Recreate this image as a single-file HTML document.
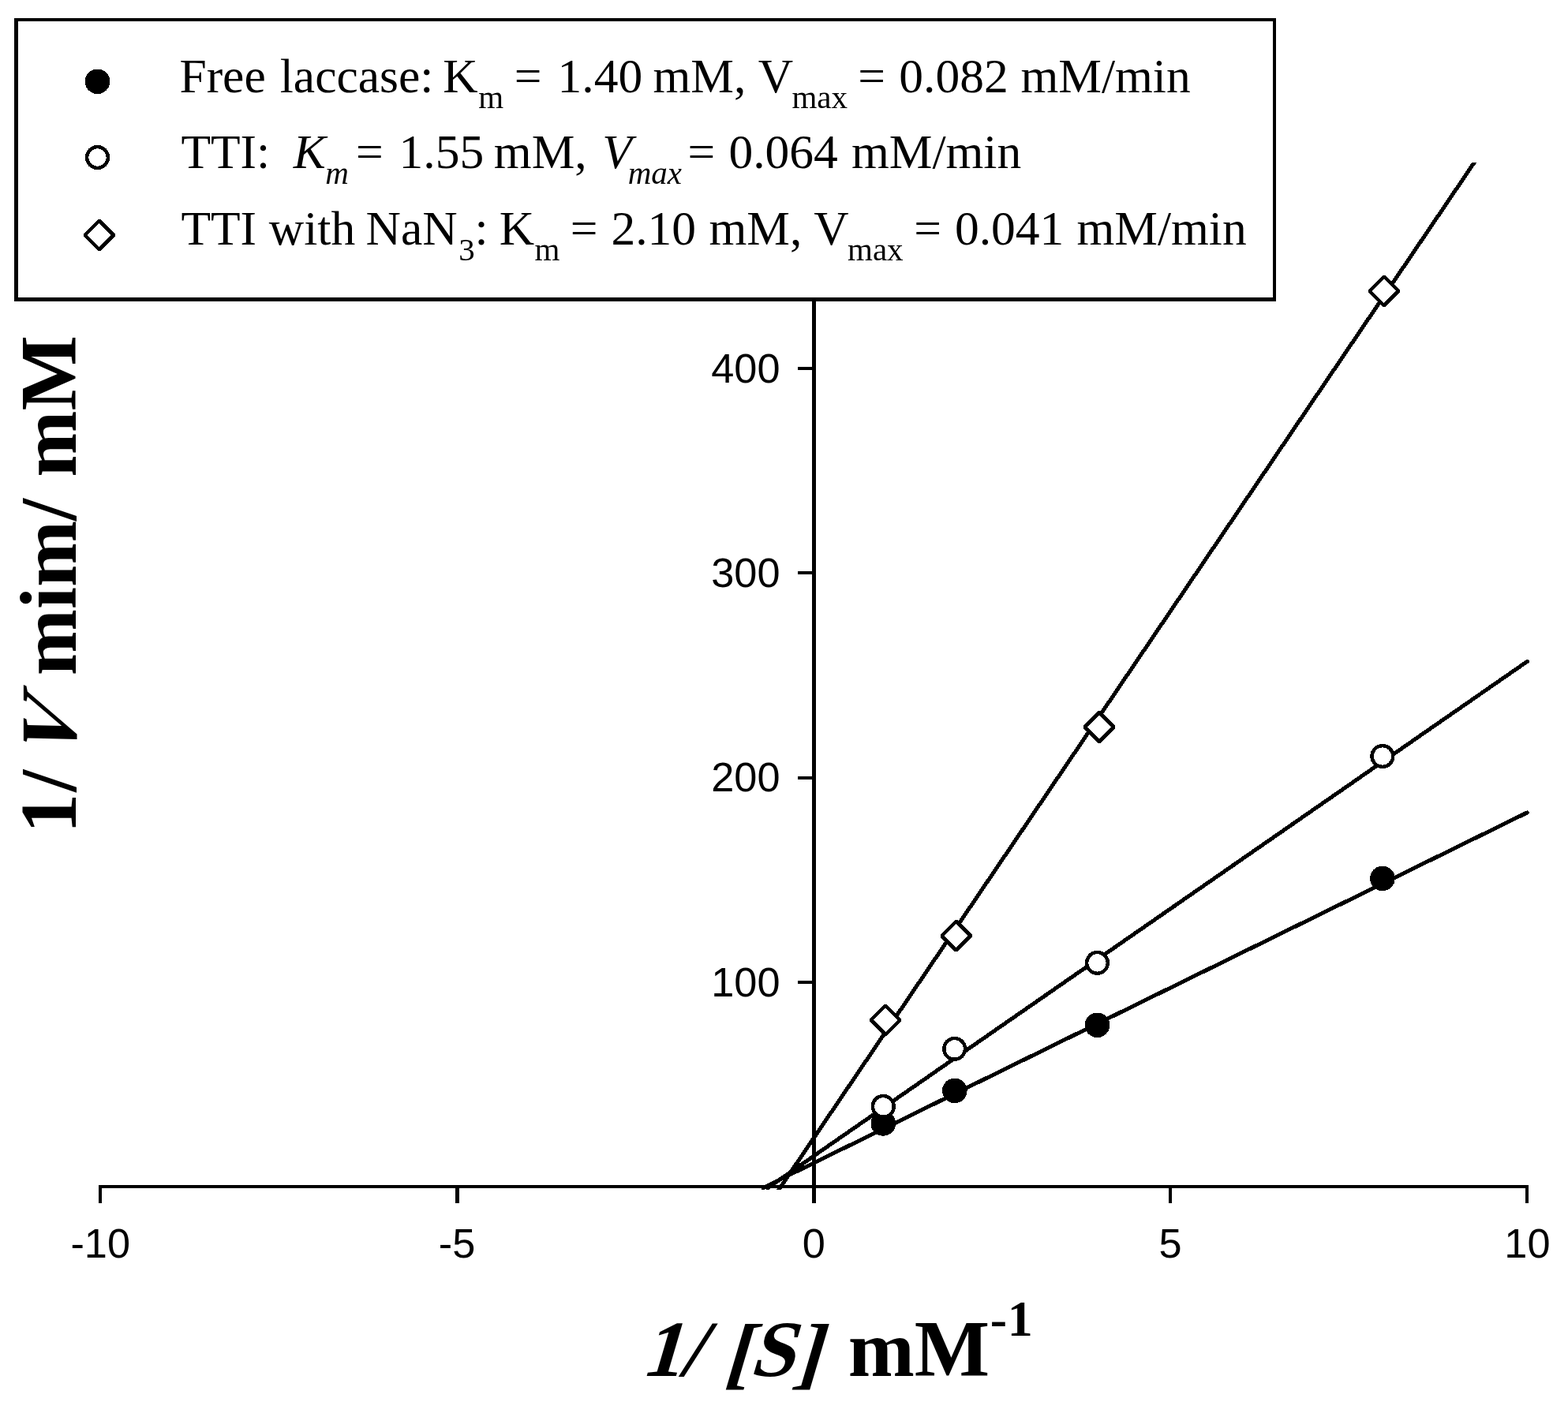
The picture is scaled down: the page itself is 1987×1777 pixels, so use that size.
<!DOCTYPE html>
<html lang="en">
<head>
<meta charset="utf-8">
<title>Lineweaver-Burk plot</title>
<style>
html,body{margin:0;padding:0;background:#fff;}
body{width:1987px;height:1777px;overflow:hidden;}
svg{display:block;}
.serif{font-family:"Liberation Serif","Times New Roman",Times,serif;}
.sans{font-family:"Liberation Sans",Arial,Helvetica,sans-serif;}
text{white-space:pre;}
</style>
</head>
<body>
<svg width="1987" height="1777" viewBox="0 0 1987 1777" shape-rendering="crispEdges">
<rect x="0" y="0" width="1987" height="1777" fill="#fff"/>

<g fill="#000">
<rect x="125" y="1502" width="1812" height="4"/>
<rect x="1029" y="380" width="5" height="1145"/>
<rect x="124.8" y="1502" width="4.4" height="23"/>
<rect x="577.1" y="1502" width="4.4" height="23"/>
<rect x="1480.8" y="1502" width="4.4" height="23"/>
<rect x="1932.8" y="1502" width="4.4" height="23"/>
<rect x="1011" y="465" width="20" height="4"/>
<rect x="1011" y="724.3" width="20" height="4"/>
<rect x="1011" y="983.7" width="20" height="4"/>
<rect x="1011" y="1243.2" width="20" height="4"/>
</g>
<g class="sans" font-size="52.3" fill="#000">
<text x="127.2" y="1594.4" text-anchor="middle">-10</text>
<text x="579" y="1594.4" text-anchor="middle">-5</text>
<text x="1031.2" y="1594.4" text-anchor="middle">0</text>
<text x="1483" y="1594.4" text-anchor="middle">5</text>
<text x="1935.4" y="1594.4" text-anchor="middle">10</text>
<text x="988.5" y="484.7" text-anchor="end">400</text>
<text x="988.5" y="744" text-anchor="end">300</text>
<text x="988.5" y="1003.4" text-anchor="end">200</text>
<text x="988.5" y="1262.9" text-anchor="end">100</text>
</g>
<g stroke="#000" stroke-width="5" fill="none">
<clipPath id="cl"><rect x="900" y="206" width="1087" height="1302"/></clipPath>
<g clip-path="url(#cl)"><line x1="985.47" y1="1510" x2="1870.91" y2="202" stroke-linecap="butt"/></g>
<line x1="972.94" y1="1505.6" x2="1935.3" y2="838.4" stroke-linecap="round"/>
<line x1="966.97" y1="1505.6" x2="1935.3" y2="1029.9" stroke-linecap="round"/>
</g>
<g fill="#000">
<circle cx="1119.3" cy="1423.9" r="15.8"/>
<circle cx="1209.8" cy="1382.4" r="15.8"/>
<circle cx="1390.5" cy="1299.3" r="15.8"/>
<circle cx="1751.9" cy="1113.4" r="15.8"/>
</g>
<g fill="#fff" stroke="#000" stroke-width="4.5">
<circle cx="1119.3" cy="1402.4" r="13.35"/>
<circle cx="1209.6" cy="1329.4" r="13.35"/>
<circle cx="1390.5" cy="1220.4" r="13.35"/>
<circle cx="1751.9" cy="958.5" r="13.35"/>
</g>
<g fill="#fff" stroke="#000" stroke-width="4.7" stroke-linejoin="bevel">
<path d="M1122.1 1274.5L1140.5 1292.9L1122.1 1311.3L1103.7 1292.9Z"/>
<path d="M1211.7 1167.7L1230.1 1186.1L1211.7 1204.5L1193.3 1186.1Z"/>
<path d="M1393 903.1L1411.4 921.5L1393 939.9L1374.6 921.5Z"/>
<path d="M1753.9 350.5L1772.3 368.9L1753.9 387.3L1735.5 368.9Z"/>
</g>
<rect x="18" y="23" width="1599" height="359" fill="#000"/><rect x="23" y="27" width="1590.2" height="350.2" fill="#fff"/>
<circle cx="123.5" cy="103.3" r="15.8" fill="#000"/>
<circle cx="123.5" cy="199.5" r="13.35" fill="#fff" stroke="#000" stroke-width="4.5"/>
<g fill="#fff" stroke="#000" stroke-width="4.7" stroke-linejoin="bevel"><path d="M125.9 279.6L144.3 298L125.9 316.4L107.5 298Z"/></g>
<g class="serif" font-size="61.5" fill="#000">
<text><tspan x="227.43" y="117">Free </tspan><tspan x="354.77" y="117">laccase: </tspan><tspan x="561.33" y="117">K</tspan><tspan x="606.14" y="136.6" font-size="41">m </tspan><tspan x="651.64" y="117">= </tspan><tspan x="706.59" y="117">1.40 </tspan><tspan x="827.51" y="117">mM, </tspan><tspan x="960.71" y="117">V</tspan><tspan x="1003.44" y="136.6" font-size="41">max </tspan><tspan x="1087.14" y="117">= </tspan><tspan x="1139.26" y="117">0.082 </tspan><tspan x="1293.41" y="117">mM/min</tspan></text>
<text><tspan x="229.49" y="213.4">TTI:  </tspan><tspan x="371.82" y="213.4" font-style="italic">K</tspan><tspan x="412.32" y="232.6" font-style="italic" font-size="41">m </tspan><tspan x="450.94" y="213.4">= </tspan><tspan x="505.59" y="213.4">1.55 </tspan><tspan x="625.81" y="213.4">mM, </tspan><tspan x="763.19" y="213.4" font-style="italic">V</tspan><tspan x="795.72" y="232.6" font-style="italic" font-size="41">max </tspan><tspan x="871.44" y="213.4">= </tspan><tspan x="923.46" y="213.4">0.064 </tspan><tspan x="1078.91" y="213.4">mM/min</tspan></text>
<text><tspan x="229.49" y="309.5">TTI </tspan><tspan x="340.84" y="309.5">with </tspan><tspan x="463.53" y="309.5">NaN</tspan><tspan x="581.34" y="329.8" font-size="41">3</tspan><tspan x="601.54" y="309.5">: </tspan><tspan x="632.83" y="309.5">K</tspan><tspan x="677.54" y="329.8" font-size="41">m </tspan><tspan x="722.64" y="309.5">= </tspan><tspan x="774.4" y="309.5">2.10 </tspan><tspan x="898.41" y="309.5">mM, </tspan><tspan x="1031.31" y="309.5">V</tspan><tspan x="1074.04" y="329.8" font-size="41">max </tspan><tspan x="1158.34" y="309.5">= </tspan><tspan x="1209.96" y="309.5">0.041 </tspan><tspan x="1364.41" y="309.5">mM/min</tspan></text>
</g>
<g class="serif" font-weight="bold" font-size="101" fill="#000">
<text transform="translate(811.61 1743.6) skewX(-16.4)">1</text>
<text transform="translate(860.89 1743.6) skewX(-16.4)">/ </text>
<text transform="translate(916.28 1748.4) skewX(-16.4)">[</text>
<text transform="translate(948.88 1743.6) skewX(-16.4)">S</text>
<text transform="translate(1004.04 1748.4) skewX(-16.4)">] </text>
<text><tspan x="1074.69" y="1743.6">mM</tspan><tspan x="1254.66" y="1692.5" font-size="64">-</tspan><tspan x="1276.78" y="1692.5" font-size="64">1</tspan></text>
<g transform="translate(95.8 1049) rotate(-90)">
<text><tspan x="-7.19" y="0">1</tspan><tspan x="45.39" y="0">/ </tspan></text>
<text transform="translate(79.16 0) skewX(-24.4)">V </text>
<text><tspan x="192.79" y="0">mim/ </tspan><tspan x="444.39" y="0">mM</tspan></text>
</g>
</g>
</svg>
</body>
</html>
